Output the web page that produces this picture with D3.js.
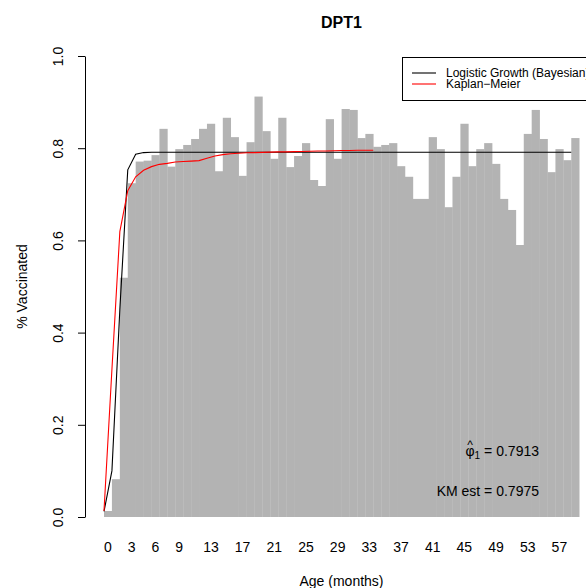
<!DOCTYPE html>
<html>
<head>
<meta charset="utf-8">
<script src="https://cdn.jsdelivr.net/npm/d3@7"></script>
<style>
  body { margin: 0; background: #fff; }
  svg { font-family: "Liberation Sans", Arial, sans-serif; display: block; }
</style>
</head>
<body>
<div id="chart-area"></div>
<script>
// DATA
const months = [0,1,2,3,4,5,6,7,8,9,10,11,12,13,14,15,16,17,18,19,
	20,21,22,23,24,25,26,27,28,29,30,31,32,33,34,35,36,37,38,39,
	40,41,42,43,44,45,46,47,48,49,50,51,52,53,54,55,56,57,58,59];

// observed share vaccinated per month of age
const pctVaccinated = [0.013,0.082,0.519,0.724,0.771,0.773,0.785,0.842,0.760,0.798,
	0.807,0.820,0.842,0.853,0.750,0.866,0.824,0.740,0.813,0.912,
	0.837,0.777,0.866,0.759,0.783,0.811,0.731,0.718,0.863,0.777,
	0.885,0.883,0.822,0.831,0.803,0.807,0.811,0.761,0.738,0.690,
	0.690,0.824,0.798,0.672,0.738,0.853,0.761,0.798,0.811,0.766,
	0.690,0.666,0.590,0.831,0.883,0.820,0.748,0.798,0.774,0.822];

// logistic growth fit (bayesian)
const logisticFit = [0.012,0.100,0.450,0.753,0.787,0.7905,0.7913,0.7913,0.7913,0.7913,
	0.7913,0.7913,0.7913,0.7913,0.7913,0.7913,0.7913,0.7913,0.7913,0.7913,
	0.7913,0.7913,0.7913,0.7913,0.7913,0.7913,0.7913,0.7913,0.7913,0.7913,
	0.7913,0.7913,0.7913,0.7913,0.7913,0.7913,0.7913,0.7913,0.7913,0.7913,
	0.7913,0.7913,0.7913,0.7913,0.7913,0.7913,0.7913,0.7913,0.7913,0.7913,
	0.7913,0.7913,0.7913,0.7913,0.7913,0.7913,0.7913,0.7913,0.7913,0.7913];

// kaplan-meier estimate
const kmMonths = [0,1,2,3,4,5,6,7,8,9,10,11,12,13,14,15,16,17,18,19,
	20,21,22,23,24,25,26,27,28,29,30,31,32,33,34];
const kmEstimate = [0.013,0.320,0.619,0.708,0.738,0.752,0.760,0.765,0.767,0.770,
	0.771,0.772,0.773,0.778,0.783,0.786,0.788,0.789,0.790,0.7905,
	0.791,0.7915,0.792,0.792,0.7925,0.793,0.7935,0.794,0.794,0.7945,
	0.795,0.795,0.7955,0.7955,0.7955];

const xTickMonths = [0,3,6,9,13,17,21,25,29,33,37,41,45,49,53,57];
const yTicks = [0,0.2,0.4,0.6,0.8,1.0];

const seriesNames = ['Logistic Growth (Bayesian)', 'Kaplan\u2212Meier'];
const seriesColors = ['black', 'red'];

const phiHat = 0.7913;
const kmEst = 0.7975;

// LAYOUT
const width = 586, height = 588;
const plot = {left: 85, right: 598, top: 56, bottom: 517};
const barLeft = 104, barRight = 579.2;

const svg = d3.select('#chart-area')
	.append('svg')
		.attr('width', width)
		.attr('height', height);

// SCALES
const xBand = d3.scaleBand()
	.domain(months)
	.range([barLeft, barRight])
	.padding(0);

// curves are drawn at the left edge of each month's bar
const xLine = d => xBand(d);

const yScale = d3.scaleLinear()
	.domain([0, 1])
	.range([plot.bottom, plot.top]);

// BARS
svg.append('g')
	.selectAll('rect')
	.data(months)
	.enter().append('rect')
		.attr('x', d => xBand(d))
		.attr('width', xBand.bandwidth() + 0.3)
		.attr('y', (d, i) => yScale(pctVaccinated[i]))
		.attr('height', (d, i) => yScale(0) - yScale(pctVaccinated[i]))
		.attr('fill', '#b3b3b3');

// LINES
const logisticLine = d3.line()
	.x(d => xLine(d[0]))
	.y(d => yScale(d[1]));

svg.append('path')
	.datum(months.map((m, i) => [m, logisticFit[i]]))
	.attr('d', logisticLine)
	.attr('fill', 'none')
	.attr('stroke', seriesColors[0])
	.attr('stroke-width', 1.1);

svg.append('path')
	.datum(kmMonths.map((m, i) => [m, kmEstimate[i]]))
	.attr('d', logisticLine)
	.attr('fill', 'none')
	.attr('stroke', seriesColors[1])
	.attr('stroke-width', 1.1);

// Y AXIS
const yAxisCall = d3.axisLeft(yScale)
	.tickValues(yTicks)
	.tickFormat(d3.format('.1f'))
	.tickSize(7)
	.tickSizeOuter(0);

const yAxisGroup = svg.append('g')
	.attr('transform', 'translate(' + plot.left + ',0)')
	.call(yAxisCall);
yAxisGroup.select('.domain').attr('stroke', 'black');
yAxisGroup.selectAll('line').attr('stroke', 'black');
yAxisGroup.selectAll('text')
	.attr('transform', 'rotate(-90)')
	.attr('text-anchor', 'middle')
	.attr('x', 0)
	.attr('y', -22)
	.attr('dy', 0)
	.attr('font-size', 14)
	.attr('font-family', '"Liberation Sans", Arial, sans-serif')
	.attr('fill', 'black');

// X AXIS (labels only)
const xAxisCall = d3.axisBottom(xBand)
	.tickValues(xTickMonths)
	.tickSize(0)
	.tickPadding(0);

const xAxisGroup = svg.append('g')
	.attr('transform', 'translate(0,' + plot.bottom + ')')
	.call(xAxisCall);
xAxisGroup.select('.domain').remove();
xAxisGroup.selectAll('text')
	.attr('y', 35)
	.attr('dy', 0)
	.attr('font-size', 14)
	.attr('font-family', '"Liberation Sans", Arial, sans-serif')
	.attr('fill', 'black');

// TITLES
const midX = (plot.left + plot.right) / 2;
svg.append('text')
	.attr('x', midX)
	.attr('y', 28)
	.attr('text-anchor', 'middle')
	.attr('font-size', 16)
	.attr('font-weight', 'bold')
	.text('DPT1');

svg.append('text')
	.attr('x', midX)
	.attr('y', 586)
	.attr('text-anchor', 'middle')
	.attr('font-size', 14)
	.text('Age (months)');

svg.append('text')
	.attr('transform', 'rotate(-90)')
	.attr('x', -(plot.top + plot.bottom) / 2)
	.attr('y', 27)
	.attr('text-anchor', 'middle')
	.attr('font-size', 14)
	.text('% Vaccinated');

// LEGEND
const legend = svg.append('g')
	.attr('transform', 'translate(402,57)');

legend.append('rect')
	.attr('x', 0.5)
	.attr('y', 0.5)
	.attr('width', 220)
	.attr('height', 43)
	.attr('fill', 'white')
	.attr('stroke', 'black')
	.attr('stroke-width', 1);

seriesNames.forEach((name, i) => {
	const row = legend.append('g')
		.attr('transform', `translate(0,${16 + i * 11})`);
	row.append('line')
		.attr('x1', 10)
		.attr('x2', 34)
		.attr('stroke', seriesColors[i])
		.attr('stroke-width', 1.1);
	row.append('text')
		.attr('x', 44)
		.attr('y', 4)
		.attr('font-size', 12)
		.text(name);
});

// ANNOTATIONS
const noteRight = 539;

svg.append('text')
	.attr('x', noteRight)
	.attr('y', 495.5)
	.attr('text-anchor', 'end')
	.attr('font-size', 14)
	.text('KM est = ' + kmEst.toFixed(4));

const phiValue = svg.append('text')
	.attr('x', noteRight)
	.attr('y', 455.5)
	.attr('text-anchor', 'end')
	.attr('font-size', 14)
	.text('= ' + phiHat.toFixed(4));

const valueWidth = phiValue.node().getComputedTextLength();

const phiSub = svg.append('text')
	.attr('x', noteRight - valueWidth - 4)
	.attr('y', 458.5)
	.attr('text-anchor', 'end')
	.attr('font-size', 10)
	.text('1');

const subWidth = phiSub.node().getComputedTextLength();

const phiChar = svg.append('text')
	.attr('x', noteRight - valueWidth - 4 - subWidth)
	.attr('y', 455.5)
	.attr('text-anchor', 'end')
	.attr('font-size', 14)
	.text('\u03c6');

const phiWidth = phiChar.node().getComputedTextLength();

svg.append('text')
	.attr('x', noteRight - valueWidth - 4 - subWidth - phiWidth / 2)
	.attr('y', 449)
	.attr('text-anchor', 'middle')
	.attr('font-size', 12)
	.text('^');
</script>
</body>
</html>
